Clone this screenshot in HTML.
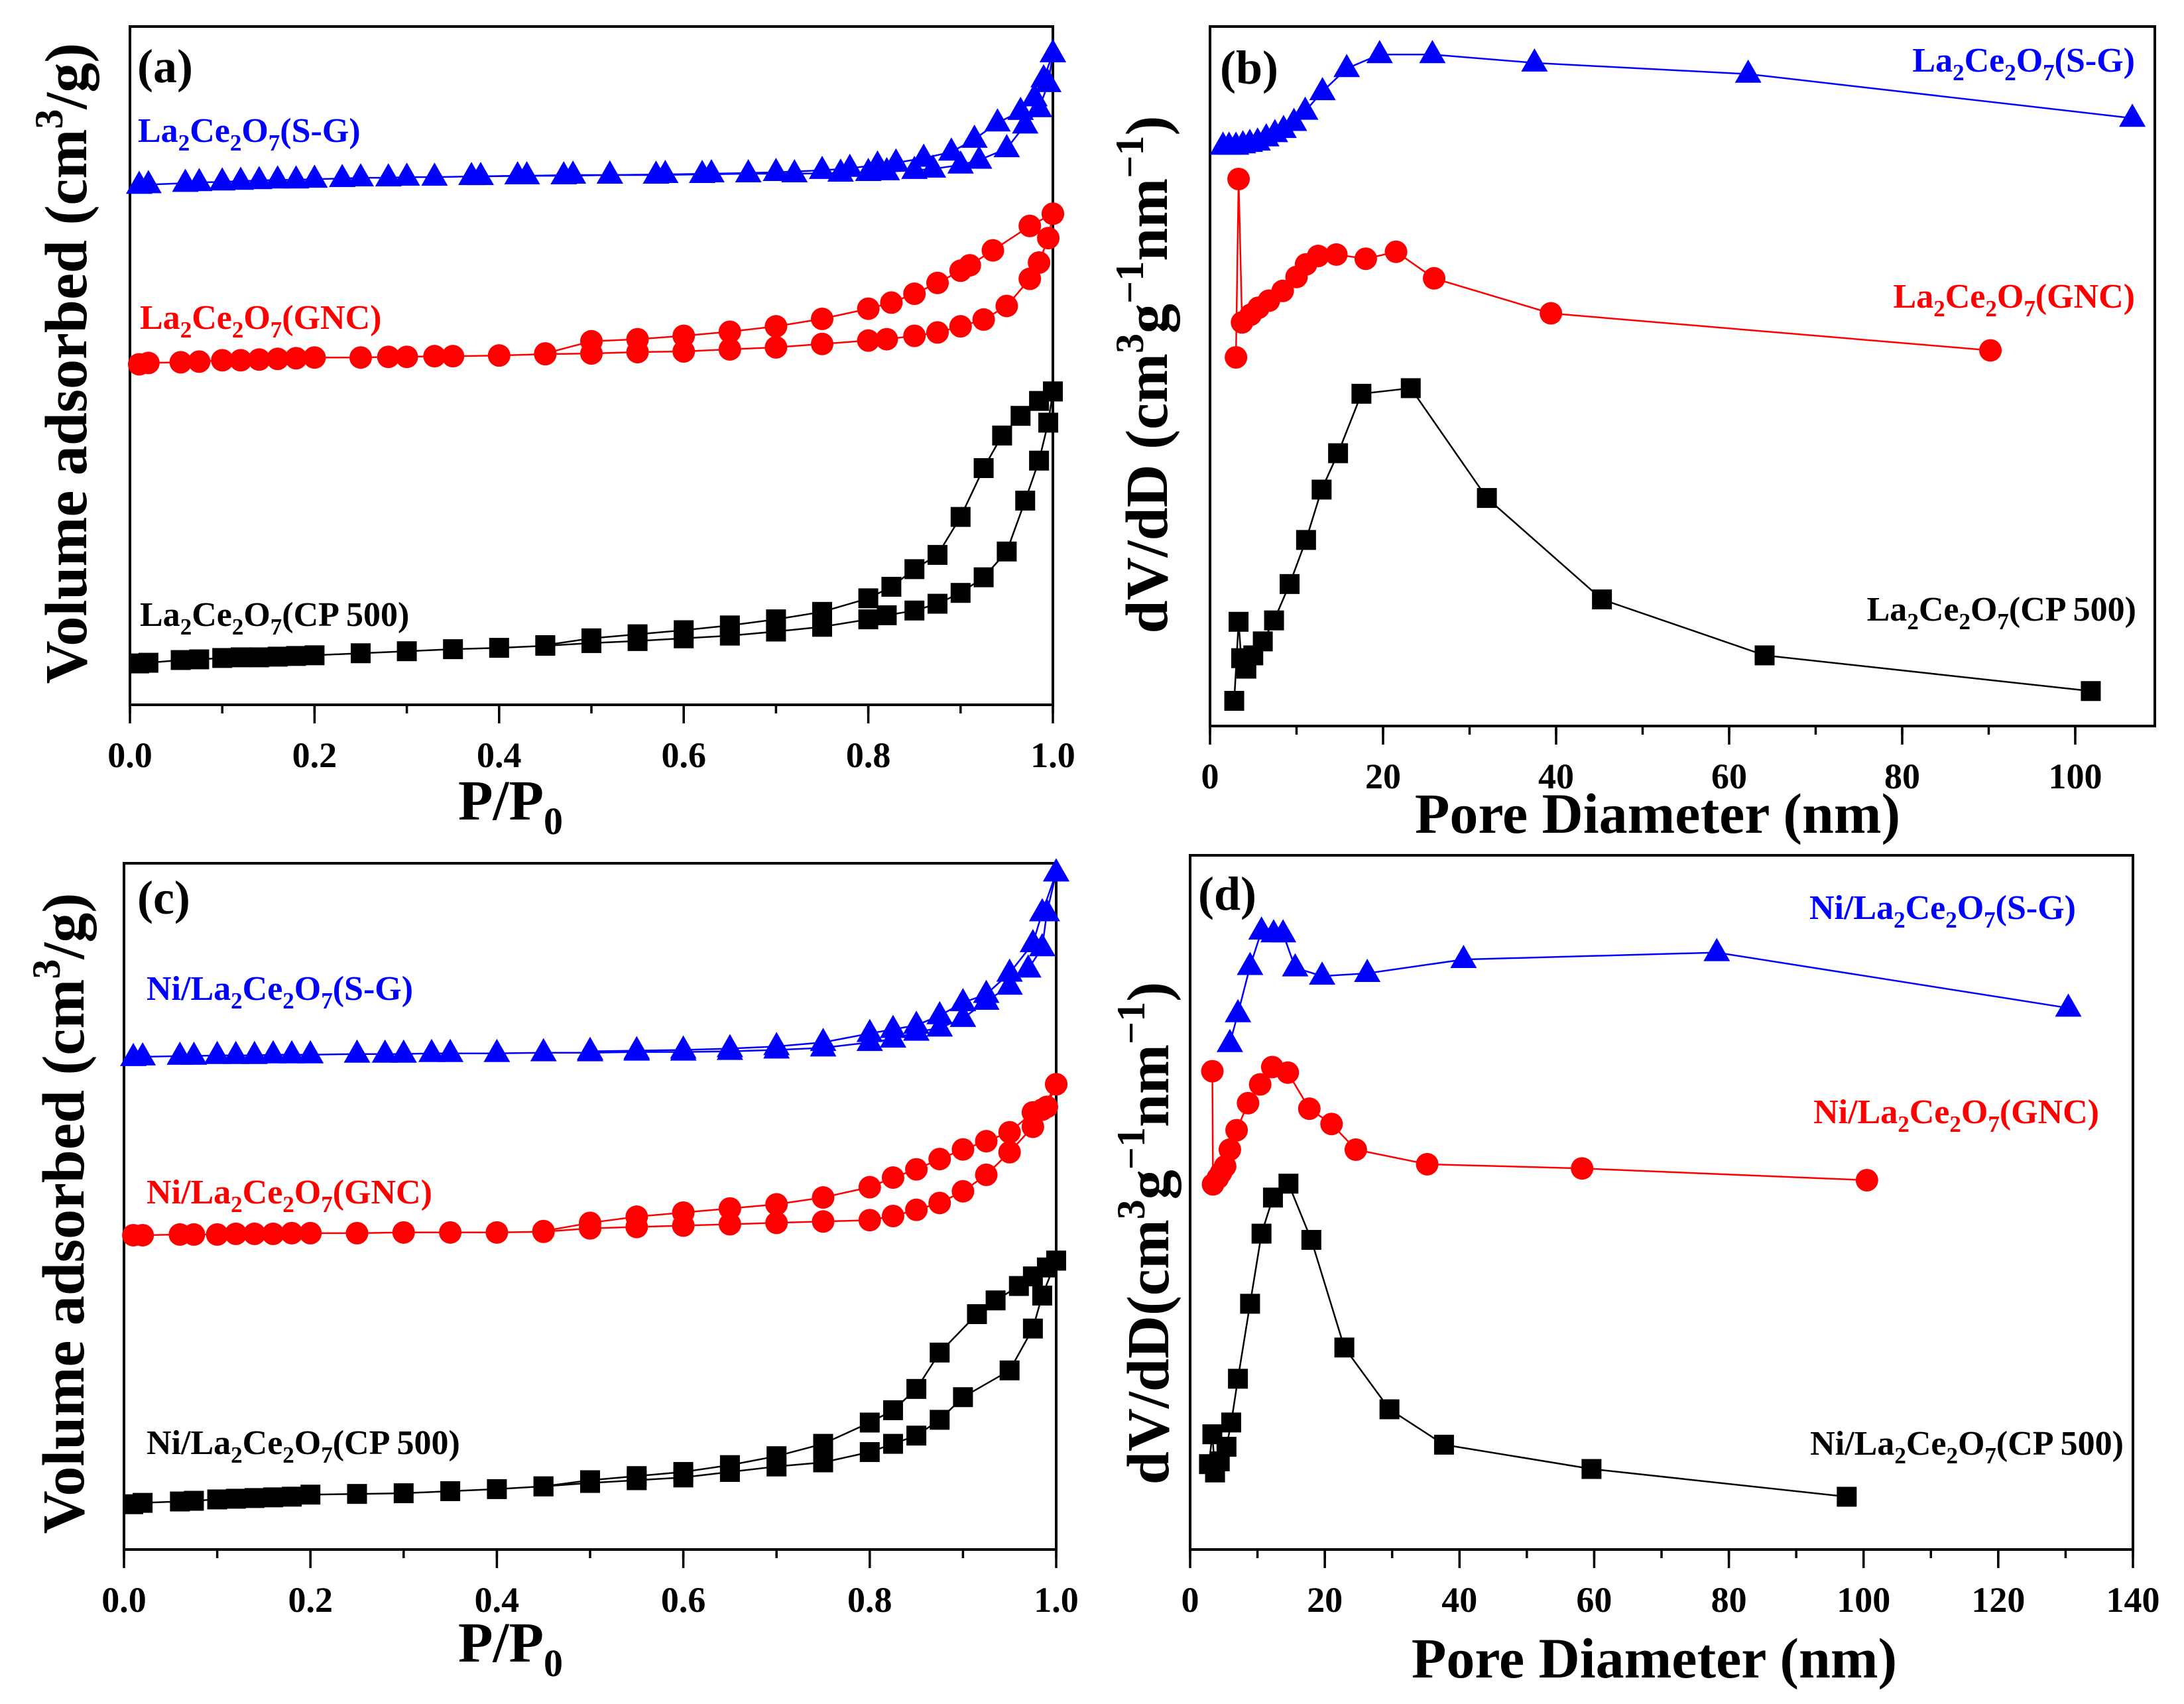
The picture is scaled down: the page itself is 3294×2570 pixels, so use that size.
<!DOCTYPE html>
<html><head><meta charset="utf-8"><style>
html,body{margin:0;padding:0;background:#fff;}
svg{display:block;font-family:"Liberation Serif",serif;font-weight:bold;}
</style></head><body>
<svg id="fig" width="3294" height="2570" viewBox="0 0 3294 2570" xmlns="http://www.w3.org/2000/svg">
<rect x="0" y="0" width="3294" height="2570" fill="#fff"/>
<g font-size="72" fill="#000">
<text x="207" y="124">(a)</text>
<text x="1840" y="126">(b)</text>
<text x="207" y="1378">(c)</text>
<text x="1807" y="1372">(d)</text>
</g>
<g font-size="52">
<text x="208" y="214" fill="#0000ff">La<tspan font-size="35" dy="13">2</tspan><tspan dy="-13">Ce</tspan><tspan font-size="35" dy="13">2</tspan><tspan dy="-13">O</tspan><tspan font-size="35" dy="13">7</tspan><tspan dy="-13">(S-G)</tspan></text>
<text x="211" y="496" fill="#ff0000">La<tspan font-size="35" dy="13">2</tspan><tspan dy="-13">Ce</tspan><tspan font-size="35" dy="13">2</tspan><tspan dy="-13">O</tspan><tspan font-size="35" dy="13">7</tspan><tspan dy="-13">(GNC)</tspan></text>
<text x="211" y="944" fill="#000">La<tspan font-size="35" dy="13">2</tspan><tspan dy="-13">Ce</tspan><tspan font-size="35" dy="13">2</tspan><tspan dy="-13">O</tspan><tspan font-size="35" dy="13">7</tspan><tspan dy="-13">(CP 500)</tspan></text>
<text x="3220" y="108" text-anchor="end" fill="#0000ff">La<tspan font-size="35" dy="13">2</tspan><tspan dy="-13">Ce</tspan><tspan font-size="35" dy="13">2</tspan><tspan dy="-13">O</tspan><tspan font-size="35" dy="13">7</tspan><tspan dy="-13">(S-G)</tspan></text>
<text x="3220" y="464" text-anchor="end" fill="#ff0000">La<tspan font-size="35" dy="13">2</tspan><tspan dy="-13">Ce</tspan><tspan font-size="35" dy="13">2</tspan><tspan dy="-13">O</tspan><tspan font-size="35" dy="13">7</tspan><tspan dy="-13">(GNC)</tspan></text>
<text x="3222" y="936" text-anchor="end" fill="#000">La<tspan font-size="35" dy="13">2</tspan><tspan dy="-13">Ce</tspan><tspan font-size="35" dy="13">2</tspan><tspan dy="-13">O</tspan><tspan font-size="35" dy="13">7</tspan><tspan dy="-13">(CP 500)</tspan></text>
<text x="221" y="1508" fill="#0000ff">Ni/La<tspan font-size="35" dy="13">2</tspan><tspan dy="-13">Ce</tspan><tspan font-size="35" dy="13">2</tspan><tspan dy="-13">O</tspan><tspan font-size="35" dy="13">7</tspan><tspan dy="-13">(S-G)</tspan></text>
<text x="221" y="1815" fill="#ff0000">Ni/La<tspan font-size="35" dy="13">2</tspan><tspan dy="-13">Ce</tspan><tspan font-size="35" dy="13">2</tspan><tspan dy="-13">O</tspan><tspan font-size="35" dy="13">7</tspan><tspan dy="-13">(GNC)</tspan></text>
<text x="221" y="2193" fill="#000">Ni/La<tspan font-size="35" dy="13">2</tspan><tspan dy="-13">Ce</tspan><tspan font-size="35" dy="13">2</tspan><tspan dy="-13">O</tspan><tspan font-size="35" dy="13">7</tspan><tspan dy="-13">(CP 500)</tspan></text>
<text x="3131" y="1386" text-anchor="end" fill="#0000ff">Ni/La<tspan font-size="35" dy="13">2</tspan><tspan dy="-13">Ce</tspan><tspan font-size="35" dy="13">2</tspan><tspan dy="-13">O</tspan><tspan font-size="35" dy="13">7</tspan><tspan dy="-13">(S-G)</tspan></text>
<text x="3166" y="1694" text-anchor="end" fill="#ff0000">Ni/La<tspan font-size="35" dy="13">2</tspan><tspan dy="-13">Ce</tspan><tspan font-size="35" dy="13">2</tspan><tspan dy="-13">O</tspan><tspan font-size="35" dy="13">7</tspan><tspan dy="-13">(GNC)</tspan></text>
<text x="3203" y="2194" text-anchor="end" fill="#000">Ni/La<tspan font-size="35" dy="13">2</tspan><tspan dy="-13">Ce</tspan><tspan font-size="35" dy="13">2</tspan><tspan dy="-13">O</tspan><tspan font-size="35" dy="13">7</tspan><tspan dy="-13">(CP 500)</tspan></text>
</g>
<g font-size="90" fill="#000">
<text transform="translate(130,548) rotate(-90)" text-anchor="middle">Volume adsorbed (cm<tspan font-size="60" dy="-36">3</tspan><tspan dy="36">/g)</tspan></text>
<text transform="translate(126,1830) rotate(-90)" text-anchor="middle">Volume adsorbed (cm<tspan font-size="60" dy="-36">3</tspan><tspan dy="36">/g)</tspan></text>
<text transform="translate(1760,565) rotate(-90)" text-anchor="middle">dV/dD (cm<tspan font-size="60" dy="-36">3</tspan><tspan dy="36">g</tspan><tspan font-size="60" dy="-36">−1</tspan><tspan dy="36">nm</tspan><tspan font-size="60" dy="-36">−1</tspan><tspan dy="36">)</tspan></text>
<text transform="translate(1762,1860) rotate(-90)" text-anchor="middle">dV/dD(cm<tspan font-size="60" dy="-36">3</tspan><tspan dy="36">g</tspan><tspan font-size="60" dy="-36">−1</tspan><tspan dy="36">nm</tspan><tspan font-size="60" dy="-36">−1</tspan><tspan dy="36">)</tspan></text>
<text x="770" y="1236" text-anchor="middle" font-size="86">P/P<tspan font-size="58" dy="22">0</tspan></text>
<text x="770" y="2506" text-anchor="middle" font-size="86">P/P<tspan font-size="58" dy="22">0</tspan></text>
<text x="2500" y="1256" text-anchor="middle" font-size="86">Pore Diameter (nm)</text>
<text x="2495" y="2530" text-anchor="middle" font-size="86">Pore Diameter (nm)</text>
</g>
<g id="plots"></g>
</svg>
<script>
// ---------- Panel (a) data : La2Ce2O7 isotherms ----------
const aSgAdsX=[0.01,0.02,0.06,0.075,0.1,0.12,0.14,0.16,0.18,0.2,0.23,0.25,0.28,0.3,0.33,0.37,0.42,0.47,0.52,0.57,0.62,0.67,0.72,0.77,0.8,0.82,0.85,0.87,0.9,0.92,0.95,0.97,0.985,0.995,1.0];
const aSgAdsY=[76.6,76.7,76.9,77.0,77.1,77.2,77.3,77.4,77.4,77.5,77.6,77.7,77.7,77.8,77.8,77.9,78.0,78.0,78.1,78.1,78.2,78.3,78.3,78.4,78.5,78.6,78.8,79.0,79.6,80.3,82.0,85.5,87.9,91.6,96.0];
const aSgDesX=[1.0,0.99,0.98,0.965,0.94,0.915,0.89,0.86,0.83,0.81,0.78,0.75,0.7,0.63,0.58,0.52,0.48,0.43,0.38];
const aSgDesY=[96.0,92.3,89.5,87.5,85.8,83.4,81.5,80.6,79.9,79.6,79.1,78.8,78.5,78.3,78.2,78.1,78.1,78.0,77.9];
const aGncAdsX=[0.01,0.02,0.055,0.075,0.1,0.12,0.14,0.16,0.18,0.2,0.25,0.28,0.3,0.33,0.35,0.4,0.45,0.5,0.55,0.6,0.65,0.7,0.75,0.8,0.82,0.85,0.875,0.9,0.925,0.95,0.975,0.985,0.995,1.0];
const aGncAdsY=[50.2,50.4,50.5,50.6,50.8,50.8,50.9,51.0,51.1,51.2,51.2,51.3,51.3,51.4,51.4,51.5,51.7,51.8,52.0,52.1,52.4,52.7,53.2,53.7,53.9,54.4,54.9,55.8,56.8,58.8,62.8,65.2,68.8,72.4];
const aGncDesX=[1.0,0.975,0.935,0.91,0.9,0.875,0.85,0.825,0.8,0.75,0.7,0.65,0.6,0.55,0.5,0.45];
const aGncDesY=[72.4,70.6,67.0,64.8,64.0,62.2,60.6,59.3,58.4,56.9,55.8,55.0,54.4,53.9,53.6,51.8];
const aCpAdsX=[0.01,0.02,0.055,0.075,0.1,0.12,0.14,0.16,0.18,0.2,0.25,0.3,0.35,0.4,0.45,0.5,0.55,0.6,0.65,0.7,0.75,0.8,0.82,0.85,0.875,0.9,0.925,0.95,0.97,0.985,0.995,1.0];
const aCpAdsY=[6.1,6.2,6.6,6.7,6.9,7.0,7.0,7.1,7.2,7.3,7.6,7.9,8.2,8.4,8.7,9.1,9.4,9.8,10.2,10.8,11.5,12.6,13.2,13.9,14.9,16.5,18.8,22.6,30.1,36.0,41.6,46.2];
const aCpDesX=[1.0,0.985,0.965,0.945,0.925,0.9,0.875,0.85,0.825,0.8,0.75,0.7,0.65,0.6,0.55,0.5,0.45];
const aCpDesY=[46.2,44.8,42.6,39.7,34.9,27.7,22.1,20.0,17.4,15.7,13.7,12.6,11.7,11.0,10.4,9.8,8.8];
// ---------- Panel (b) data ----------
const bSgX=[1.5,2.2,3,3.8,4.6,5.5,6.5,7.5,8.5,9.7,11,13,15.8,19.6,25.7,37.5,62.2,106.6];
const bSgY=[82.9,82.9,82.9,83.1,83.3,83.5,84.1,84.7,85.3,86.3,87.9,90.7,94.0,96.0,96.0,94.8,93.2,86.9];
const bGncX=[3.0,3.3,3.7,4.7,5.6,6.8,8.4,10,11.1,12.5,14.6,18,21.5,25.9,39.4,90.2];
const bGncY=[52.7,78.2,57.7,58.8,59.8,60.8,62.2,64.2,66.0,67.2,67.4,66.8,67.8,64.0,59.0,53.7];
const bCpX=[2.8,3.3,3.6,4.2,5.0,6.1,7.4,9.2,11.1,12.9,14.8,17.5,23.2,32.0,45.3,64.1,101.8];
const bCpY=[3.6,14.9,9.7,8.2,10.1,12.1,15.1,20.3,26.6,33.8,39.0,47.5,48.3,32.6,18.1,10.1,5.0];
// ---------- Panel (c) data ----------
const cSgAdsX=[0.01,0.02,0.06,0.075,0.1,0.12,0.14,0.16,0.18,0.2,0.25,0.28,0.3,0.33,0.35,0.4,0.45,0.5,0.55,0.6,0.65,0.7,0.75,0.8,0.825,0.85,0.875,0.9,0.925,0.95,0.97,0.985,0.99,1.0];
const cSgAdsY=[71.7,71.8,71.9,71.9,72.0,72.0,72.0,72.1,72.1,72.1,72.2,72.2,72.2,72.3,72.3,72.3,72.4,72.4,72.5,72.5,72.6,72.8,73.1,73.9,74.4,75.4,76.0,77.4,79.9,82.1,84.6,87.7,92.8,98.6];
const cSgDesX=[1.0,0.985,0.975,0.95,0.925,0.9,0.875,0.85,0.825,0.8,0.75,0.7,0.65,0.6,0.55,0.5];
const cSgDesY=[98.6,92.8,88.3,84.0,80.9,79.7,77.8,76.4,75.8,75.2,73.9,73.3,73.0,72.8,72.7,72.6];
const cGncAdsX=[0.01,0.02,0.06,0.075,0.1,0.12,0.14,0.16,0.18,0.2,0.25,0.3,0.35,0.4,0.45,0.5,0.55,0.6,0.65,0.7,0.75,0.8,0.825,0.85,0.875,0.9,0.925,0.95,0.975,0.985,1.0];
const cGncAdsY=[45.8,45.8,45.9,45.9,45.9,46.0,46.0,46.0,46.1,46.1,46.1,46.2,46.2,46.2,46.3,46.8,47.0,47.2,47.4,47.6,47.8,48.0,48.6,49.5,50.5,52.2,54.6,57.9,61.6,64.1,67.8];
const cGncDesX=[1.0,0.99,0.975,0.95,0.925,0.9,0.875,0.85,0.825,0.8,0.75,0.7,0.65,0.6,0.55,0.5,0.45];
const cGncDesY=[67.8,64.5,63.7,60.8,59.5,58.3,56.9,55.4,54.2,52.8,51.3,50.3,49.7,49.1,48.5,47.6,46.4];
const cCpAdsX=[0.01,0.02,0.06,0.075,0.1,0.12,0.14,0.16,0.18,0.2,0.25,0.3,0.35,0.4,0.45,0.5,0.55,0.6,0.65,0.7,0.75,0.8,0.825,0.85,0.875,0.9,0.95,0.975,0.985,1.0];
const cCpAdsY=[6.6,6.8,7.0,7.1,7.3,7.4,7.5,7.6,7.7,8.0,8.1,8.2,8.5,8.8,9.2,9.7,10.1,10.5,11.3,12.1,12.7,14.2,15.4,16.6,18.9,22.2,26.1,32.2,37.0,42.1];
const cCpDesX=[1.0,0.99,0.975,0.96,0.935,0.915,0.875,0.85,0.825,0.8,0.75,0.7,0.65,0.6,0.55,0.5,0.45];
const cCpDesY=[42.1,41.1,39.8,38.4,36.3,34.3,28.7,23.4,20.3,18.5,15.4,13.6,12.3,11.3,10.7,10.1,9.2];
// ---------- Panel (d) data ----------
const dSgX=[5.9,7.1,8.9,10.6,12.4,13.8,15.6,19.6,26.3,40.6,78.2,130.4];
const dSgY=[72.9,77.2,84.0,89.1,88.7,88.7,83.8,82.6,83.0,85.0,86.0,78.0];
const dGncX=[3.3,3.4,4.1,4.6,5.2,5.9,6.9,8.6,10.4,12.2,14.5,17.7,21.0,24.6,35.2,58.2,100.5];
const dGncY=[68.9,52.6,53.5,54.3,55.2,57.6,60.4,64.3,67.0,69.5,68.7,63.5,61.3,57.6,55.5,54.9,53.2];
const dCpX=[2.8,3.3,3.7,4.4,5.4,6.1,7.1,8.9,10.6,12.3,14.6,18.0,22.9,29.6,37.7,59.6,97.5];
const dCpY=[12.3,16.6,11.1,12.7,14.8,18.3,24.6,35.4,45.5,50.7,52.7,44.6,29.1,20.2,15.1,11.6,7.6];
// ---------- tick labels ----------
const isoTicks=[0,0.2,0.4,0.6,0.8,1.0];
const isoTickLabels=["0.0","0.2","0.4","0.6","0.8","1.0"];
const bTicks=[0,20,40,60,80,100];
const dTicks=[0,20,40,60,80,100,120,140];

const NS="http://www.w3.org/2000/svg";
const root=document.getElementById('plots');
function mk(tag,attrs,parent){const e=document.createElementNS(NS,tag);for(const k in attrs)e.setAttribute(k,attrs[k]);(parent||root).appendChild(e);return e;}

const panels={
 a:{L:196,R:1588,T:40,B:1063,xmin:0,xmax:1},
 b:{L:1825,R:3250,T:40,B:1095,xmin:0,xmax:109.2},
 c:{L:187,R:1593,T:1302,B:2337,xmin:0,xmax:1},
 d:{L:1795,R:3217,T:1290,B:2337,xmin:0,xmax:140}
};
function sx(p,v){return p.L+(v-p.xmin)/(p.xmax-p.xmin)*(p.R-p.L);}
function sy(p,v){return p.B-v/100*(p.B-p.T);}

function axes(key,ticks,labels,minorStep){
 const p=panels[key];
 const g=mk('g',{});
 
 
 const box=mk('rect',{x:p.L,y:p.T,width:p.R-p.L,height:p.B-p.T,fill:'none',stroke:'#000','stroke-width':4},g);
 
 
 for(let v=p.xmin;v<=p.xmax+1e-9;v+=minorStep){
  const x=sx(p,v);
  const mt=mk('line',{x1:x,x2:x,y1:p.B,y2:p.B+13,stroke:'#000','stroke-width':3.5},g);
  
  
 }
 ticks.forEach((v,i)=>{
  const x=sx(p,v);
  const t=mk('line',{x1:x,x2:x,y1:p.B,y2:p.B+28,stroke:'#000','stroke-width':3.5},g);
  
  
  const tx=mk('text',{x:x,y:p.B+94,'text-anchor':'middle','font-size':54,fill:'#000'},g);
  
  
  tx.textContent=labels[i];
 });
}
function marker(g,shape,x,y,color){
 let m;
 if(shape==='tri'){m=mk('polygon',{points:`${x},${y-22} ${x-20},${y+13} ${x+20},${y+13}`,fill:color},g);}
 else if(shape==='circ'){m=mk('circle',{cx:x,cy:y,r:17,fill:color},g);}
 else {m=mk('rect',{x:x-15,y:y-15,width:30,height:30,fill:color},g);}
 
 
}
function series(key,name,xs,ys,shape,color){
 const p=panels[key];
 const g=mk('g',{});
 
 
 const pts=xs.map((v,i)=>sx(p,v).toFixed(1)+','+sy(p,ys[i]).toFixed(1)).join(' ');
 const ln=mk('polyline',{points:pts,fill:'none',stroke:color,'stroke-width':2.5},g);
 
 
 xs.forEach((v,i)=>marker(g,shape,sx(p,v),sy(p,ys[i]),color));
}
axes('a',isoTicks,isoTickLabels,0.1);
axes('c',isoTicks,isoTickLabels,0.1);
axes('b',bTicks,bTicks.map(String),10);
axes('d',dTicks,dTicks.map(String),10);

series('a','a-sg-adsorption',aSgAdsX,aSgAdsY,'tri','#0000ff');
series('a','a-sg-desorption',aSgDesX,aSgDesY,'tri','#0000ff');
series('a','a-gnc-adsorption',aGncAdsX,aGncAdsY,'circ','#ff0000');
series('a','a-gnc-desorption',aGncDesX,aGncDesY,'circ','#ff0000');
series('a','a-cp500-adsorption',aCpAdsX,aCpAdsY,'sq','#000');
series('a','a-cp500-desorption',aCpDesX,aCpDesY,'sq','#000');

series('b','b-sg-psd',bSgX,bSgY,'tri','#0000ff');
series('b','b-gnc-psd',bGncX,bGncY,'circ','#ff0000');
series('b','b-cp500-psd',bCpX,bCpY,'sq','#000');

series('c','c-sg-adsorption',cSgAdsX,cSgAdsY,'tri','#0000ff');
series('c','c-sg-desorption',cSgDesX,cSgDesY,'tri','#0000ff');
series('c','c-gnc-adsorption',cGncAdsX,cGncAdsY,'circ','#ff0000');
series('c','c-gnc-desorption',cGncDesX,cGncDesY,'circ','#ff0000');
series('c','c-cp500-adsorption',cCpAdsX,cCpAdsY,'sq','#000');
series('c','c-cp500-desorption',cCpDesX,cCpDesY,'sq','#000');

series('d','d-sg-psd',dSgX,dSgY,'tri','#0000ff');
series('d','d-gnc-psd',dGncX,dGncY,'circ','#ff0000');
series('d','d-cp500-psd',dCpX,dCpY,'sq','#000');
</script>
</body></html>
